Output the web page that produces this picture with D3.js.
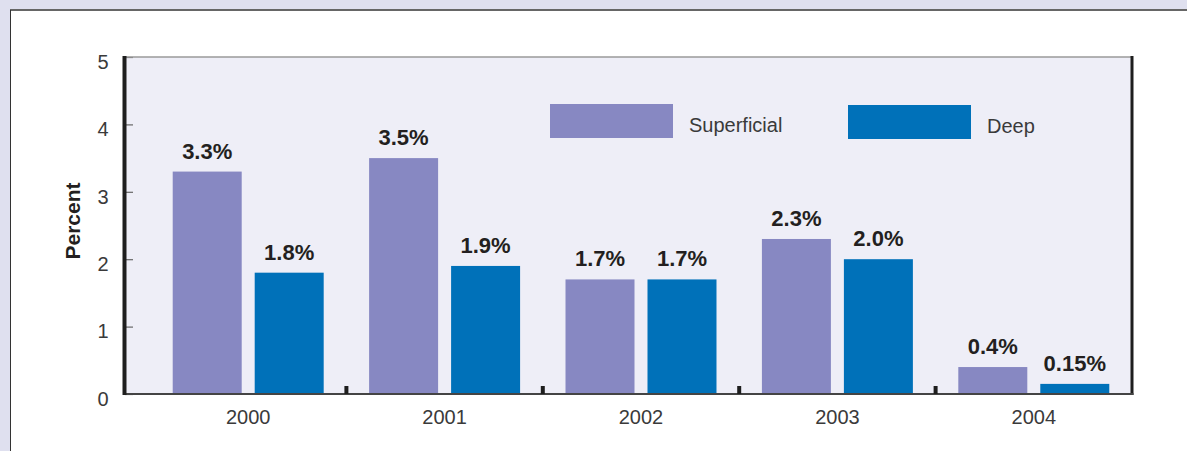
<!DOCTYPE html>
<html>
<head>
<meta charset="utf-8">
<script src="https://cdnjs.cloudflare.com/ajax/libs/d3/7.8.5/d3.min.js"></script>
<style>
  body { margin: 0; background: #dfe0ef; }
  svg { display: block; font-family: "Liberation Sans", Arial, sans-serif; }
</style>
</head>
<body>
<div id="chart"></div>
<script>
// data
var years = ["2000", "2001", "2002", "2003", "2004"]
var series = ["Superficial", "Deep"]
var superficial = [3.3, 3.5, 1.7, 2.3, 0.4]
var deep = [1.8, 1.9, 1.7, 2.0, 0.15]
var labelsSup = ["3.3%", "3.5%", "1.7%", "2.3%", "0.4%"]
var labelsDeep = ["1.8%", "1.9%", "1.7%", "2.0%", "0.15%"]
var yTicks = [0, 1, 2, 3, 4, 5]

var W = 1187, H = 451
var plot = {left: 125, right: 1132, top: 57, bottom: 394}

var color = d3.scaleOrdinal().domain(series).range(["#8788c2", "#0071b9"])

var svg = d3.select("#chart").append("svg")
    .attr("width", W).attr("height", H)

// outer background + white panel
svg.append("rect").attr("width", W).attr("height", H).attr("fill", "#dfe0ef")
svg.append("rect").attr("x", 10).attr("y", 10).attr("width", W).attr("height", H).attr("fill", "#fff")
svg.append("line").attr("x1", 10).attr("x2", W).attr("y1", 10).attr("y2", 10)
    .attr("stroke", "#666").attr("stroke-width", 2)
svg.append("line").attr("x1", 10.5).attr("x2", 10.5).attr("y1", 10).attr("y2", H)
    .attr("stroke", "#333").attr("stroke-width", 1)

// plot area
svg.append("rect")
    .attr("x", plot.left).attr("y", plot.top)
    .attr("width", plot.right - plot.left).attr("height", plot.bottom - plot.top)
    .attr("fill", "#eeeef7")

// scales
var x = d3.scaleBand().domain(years).range([150, plot.right])
var x1 = d3.scaleBand().domain(series).range([0, x.bandwidth()])
    .paddingInner(0.1585).paddingOuter(0.277)
var y = d3.scaleLinear().domain([0, 5]).range([plot.bottom, plot.top])

// y axis (ticks point inward)
var yAxis = svg.append("g")
    .attr("transform", "translate(" + plot.left + ",0)")
    .call(d3.axisLeft(y).tickValues(yTicks).tickFormat(d3.format("d")).tickSize(-8).tickPadding(16.5))
yAxis.select(".domain").remove()
yAxis.selectAll(".tick line").attr("stroke", "#666").attr("stroke-width", 1.2)
yAxis.selectAll(".tick text")
    .attr("dy", "0.56em")
    .style("font-size", "20px")
    .style("fill", "#3a3a3a")
    .style("font-family", "Liberation Sans, Arial, sans-serif")

// bars
var rows = years.map(function(d, i) {
    return {year: d, vals: [
        {key: "Superficial", v: superficial[i], lab: labelsSup[i]},
        {key: "Deep", v: deep[i], lab: labelsDeep[i]}
    ]}
})
var groups = svg.selectAll(".grp").data(rows).enter().append("g")
    .attr("transform", function(d) { return "translate(" + x(d.year) + ",0)" })
groups.selectAll("rect").data(function(d) { return d.vals }).enter().append("rect")
    .attr("x", function(d) { return x1(d.key) })
    .attr("width", x1.bandwidth())
    .attr("y", function(d) { return y(d.v) })
    .attr("height", function(d) { return y(0) - y(d.v) })
    .attr("fill", function(d) { return color(d.key) })
groups.selectAll("text").data(function(d) { return d.vals }).enter().append("text")
    .attr("x", function(d) { return x1(d.key) + x1.bandwidth() / 2 })
    .attr("y", function(d) { return y(d.v) - 13 })
    .attr("text-anchor", "middle")
    .style("font-size", "22px")
    .style("font-weight", "bold")
    .style("fill", "#231f20")
    .text(function(d) { return d.lab })

// frame lines
svg.append("line").attr("x1", plot.left).attr("x2", plot.right).attr("y1", plot.top).attr("y2", plot.top)
    .attr("stroke", "#9a9a9a").attr("stroke-width", 1.5)
svg.append("line").attr("x1", plot.right).attr("x2", plot.right).attr("y1", plot.top - 1).attr("y2", plot.bottom + 1)
    .attr("stroke", "#1e1e1e").attr("stroke-width", 3)
svg.append("line").attr("x1", plot.left).attr("x2", plot.right + 1.5).attr("y1", plot.bottom).attr("y2", plot.bottom)
    .attr("stroke", "#444").attr("stroke-width", 2)
svg.append("line").attr("x1", plot.left - 0.5).attr("x2", plot.left - 0.5).attr("y1", plot.top - 1).attr("y2", plot.bottom + 1)
    .attr("stroke", "#1e1e1e").attr("stroke-width", 4)

// group separators on x axis
svg.selectAll(".sep").data(years.slice(1)).enter().append("line")
    .attr("x1", function(d) { return x(d) }).attr("x2", function(d) { return x(d) })
    .attr("y1", plot.bottom - 8).attr("y2", plot.bottom)
    .attr("stroke", "#1e1e1e").attr("stroke-width", 4)

// x axis labels
var xAxis = svg.append("g")
    .attr("transform", "translate(0," + plot.bottom + ")")
    .call(d3.axisBottom(x).tickSize(0).tickPadding(15.5))
xAxis.select(".domain").remove()
xAxis.selectAll(".tick text")
    .style("font-size", "20px")
    .style("fill", "#3a3a3a")
    .style("font-family", "Liberation Sans, Arial, sans-serif")

// y axis title
svg.append("text")
    .attr("transform", "translate(80,221) rotate(-90)")
    .attr("text-anchor", "middle")
    .style("font-size", "21px")
    .style("font-weight", "bold")
    .style("fill", "#231f20")
    .text("Percent")

// legend
var legX = [550, 848], legY = [104, 105]
var leg = svg.selectAll(".leg").data(series).enter().append("g")
    .attr("transform", function(d, i) { return "translate(" + legX[i] + "," + legY[i] + ")" })
leg.append("rect").attr("width", 123).attr("height", 34)
    .attr("fill", function(d) { return color(d) })
leg.append("text")
    .attr("x", 139).attr("y", 28)
    .style("font-size", "20px")
    .style("fill", "#3a3a3a")
    .text(function(d) { return d })
</script>
</body>
</html>
